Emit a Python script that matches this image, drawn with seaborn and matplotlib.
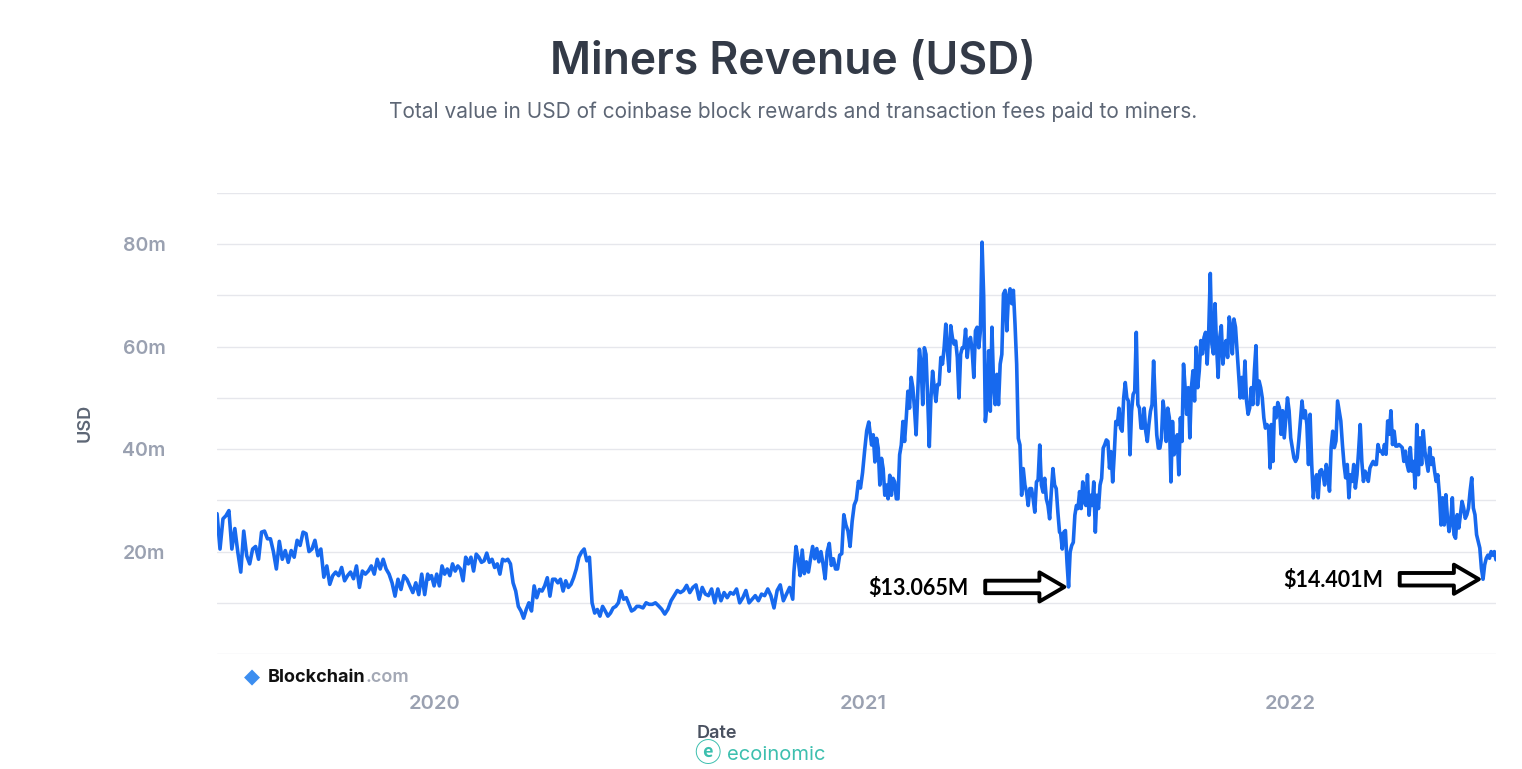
import matplotlib
matplotlib.use('Agg')
import matplotlib.pyplot as plt
import matplotlib.dates as mdates
from matplotlib.ticker import MultipleLocator, FuncFormatter
import seaborn as sns
import pandas as pd

# Miners revenue, million USD (one list per stretch of time)
rev_2019h2 = [27.4, 20.5, 26.4, 27, 28, 20.5, 24.5, 19.9, 16, 24, 19.2, 17.6, 20.5, 21, 18.5,
              23.8, 24, 22.5, 22.5, 20, 16.6, 22, 18.5, 20.2, 17.9, 20.2, 18.9, 22.2, 21.2, 23.8,
              23.5, 20, 20.5, 22.2, 19.2, 20.5, 15, 17.2, 13.6, 15.3, 16, 15.3, 16.9, 14.3, 15.3,
              16, 14.7, 17.2, 13, 16.2, 15.6, 16.2, 17.2, 15.6, 18.5, 16.6, 18.5, 16.6, 15.6, 13.9,
              11.3, 14.6, 12.6, 15.3, 14.6, 13.3, 12, 13.9, 11.6, 15.6, 11.6, 15.6]
rev_2020h1 = [14.6, 15.3, 13.3, 15.6, 13.3, 17.2, 15.6, 16.6, 15.3, 17.6, 16.2, 17.2, 16.6, 14.3,
              18.9, 17.6, 18.9, 16.2, 19.5, 18.9, 17.9, 18.2, 19.7, 17.9, 18.5, 16.9, 17.6, 15.6,
              18.5, 18.2, 18.5, 17.6, 13.9, 12.3, 9.3, 8.4, 7, 8.7, 10, 8.4, 13.3, 11, 12.6, 12.3,
              13.3, 14.9, 11.3, 14.6, 14.6, 13.9, 14.6, 12.3, 14.3, 13, 13.6, 14.9, 16.6, 18.9,
              19.9, 20.5, 18.2, 18.9, 10, 8, 8.7, 7.4, 9.3, 8.4, 7.4, 8, 9, 9.3, 10, 12.3, 10.7,
              11, 9.7, 8.4, 8.7, 9.3, 9.3]
rev_2020h2 = [9, 10, 9.7, 9.7, 10, 9.4, 8.75, 7.8, 8.75, 10.4, 11.4, 12.4, 12, 12.4, 13.4, 12, 13,
              13.5, 10.7, 13, 11.7, 11.4, 12.7, 10, 12.7, 10.4, 12, 11, 12, 11.7, 12.7, 10, 11,
              12.4, 10, 10.7, 11.4, 10.4, 11.7, 11.4, 12.7, 11.4, 9, 12.4, 13.5, 10.4, 11.7, 13,
              10.7]
rev_2020q4 = [16, 21, 18.6, 15.3, 20.3, 15.7, 18, 16, 18.6, 21, 18.6, 20.6, 18, 20, 17.6, 14.7,
              20, 21.6, 17.3, 18.6, 16.6, 16.6, 19.3, 19.6, 27.2, 25.2, 24, 21, 25.9, 29.1, 30.1,
              33.7, 32.4, 35.4, 39.7, 43.6, 45.3]
rev_2021h1 = [43.4, 40.8, 42.8, 37.5, 42.1, 40.2, 33, 38.2, 36.2, 31, 33, 30.3, 34.9, 31, 34.3,
              33.6, 30.3, 30.3, 38.9, 40.8, 45.4, 41.5, 46, 51.3, 48, 54, 52, 48, 42.8, 51.3, 59.5,
              56.6, 48.7, 59.8, 58.5, 50, 40.5, 50, 55.2, 52, 49.3, 52.6, 52.6, 57.9, 56.6, 59.8,
              64.4, 59.2, 55.2, 64.1, 61.8, 60.5, 61.1, 57.9, 50, 58.5, 59.8, 59.8, 63.4, 57.9,
              61.1, 61.8, 59.2, 54, 63.1, 63.8, 59.8, 63.1, 80.4, 69.7, 45.4, 48.7, 59.2, 47.4,
              63.8, 52.6, 48.7, 54.6, 48.7, 56.6, 58.5, 70.3, 71, 63.1, 69.7, 71.3, 68.4, 71, 64.4,
              56.6, 42.1, 40.8, 31, 36.2, 33, 31.6, 29, 32.3, 32.3, 30.3, 27.7, 33.6, 34, 40.8, 33,
              31.6, 34.3, 30.3, 29, 26.4, 31.6, 36.2, 33, 32.3, 27.7, 23.8]
rev_2021h2 = [23.5, 20.5, 23.8, 24.1, 17.9, 13.1, 19.9, 21.2, 21.8, 27.1, 29, 28.4, 31.7, 28.4,
              33.6, 29.7, 29, 35, 27.1, 31, 29, 33.6, 23.8, 31, 28.4, 33, 34.3, 40.2, 40.9, 41.8,
              41.5, 36.3, 39.5, 33.6, 38.9, 45.4, 44.8, 48, 44.1, 43.5, 50, 53, 50, 49.4, 38.9,
              47.4, 50.7, 51.3, 62.8, 48.7, 48, 44.1, 44.1, 48, 43.5, 41.5, 44.8, 47.4, 48.7, 57.2,
              49.4, 42.8, 40.2, 40.2, 42.2, 49.4, 46.8, 41.5, 48, 46.1, 33.6, 45.4, 38.9, 40.2,
              42.8, 35, 46.1, 41.5, 56.6, 52, 46.8, 52, 42.2, 52, 55.3, 49.4, 59.9, 52, 55.3, 61.2,
              58.6, 61.8, 62.8, 56.6, 63.1, 74.3, 60.5, 58.6, 68.4, 59.9, 54, 61.8, 64.1, 56.6,
              59.9, 61.2, 57.9, 65.8, 63.8, 58.6, 65.4, 63.8, 59.2, 54.6, 50, 54, 50, 57.2, 49.4,
              46.8, 48, 52, 48.7, 55.3, 60.2, 48.7, 53.3, 52, 50, 46.1, 44.1, 44.8, 44.1, 36.3]
rev_2022h1 = [44.8, 37.6, 48.1, 46.1, 49.1, 48.1, 42.9, 47.5, 42.2, 46.1, 50, 47.5, 42.2, 40.3,
              38.3, 37.6, 38.3, 41.6, 45.5, 49.4, 46.1, 47.5, 44.8, 37, 46.8, 37, 30.5, 33.7, 35,
              30.5, 35.7, 36, 35, 33, 37, 35, 31.8, 40.3, 43.5, 40.3, 41.6, 49.4, 47.5, 45.5, 40.9,
              37, 34.4, 37, 30.5, 35, 33.7, 37, 32.4, 35, 39.6, 44.8, 37.6, 33.7, 35.7, 35, 33.7,
              36.3, 37, 37.6, 37, 37, 40.9, 39.6, 39.6, 39, 40.9, 39, 45.5, 42.9, 47.5, 40.9, 43.5,
              40.6, 40.6, 40.9, 40.6, 40.3, 37.6, 39.6, 37, 35.7, 40.3, 35.7, 37.6, 32.4, 44.8, 35,
              42.2, 37, 43.6, 39.6, 37.6, 35.7, 40.3, 37, 38.3, 35.7, 33.7, 35, 31.1, 25.2, 30.5,
              25.2, 31.1, 26.5, 23.9, 25.9, 30.5, 23.3, 22.6, 27.2, 24.6, 27.2, 29.8, 28.5, 26.5,
              27.2, 28.5, 31.8, 34.4, 28.5, 27.2, 23.3, 22, 20.7, 16.7, 14.6, 17.4, 18.7, 19.3,
              18.7, 20, 19.3, 20, 18.4]

segments = [
    ('2019-06-29', '2019-12-26', rev_2019h2),
    ('2019-12-27', '2020-06-24', rev_2020h1),
    ('2020-06-27', '2020-11-02', rev_2020h2),
    ('2020-11-03', '2021-01-06', rev_2020q4),
    ('2021-01-07', '2021-06-18', rev_2021h1),
    ('2021-06-19', '2021-12-15', rev_2021h2),
    ('2021-12-16', '2022-06-26', rev_2022h1),
]

note_labels = ['$13.065M', '$14.401M']

frames = []
for start, end, vals in segments:
    frames.append(pd.DataFrame({
        'date': pd.date_range(start, end, periods=len(vals)),
        'usd_m': vals}))
df = pd.concat(frames, ignore_index=True)

sns.set_style('white')
plt.rcParams['font.family'] = ['Inter', 'DejaVu Sans']
plt.rcParams['font.weight'] = 'semibold'

fig = plt.figure(figsize=(15.22, 7.69), dpi=100)
ax = fig.add_axes([0.1426, 0.1495, 0.8403, 0.5995])

sns.lineplot(data=df, x='date', y='usd_m', color='#1769ee', linewidth=2.6, ax=ax)

ax.set_ylim(0, 90)
ax.set_xlim(df['date'].iloc[0], df['date'].iloc[-1])
ax.yaxis.set_major_locator(MultipleLocator(10))
ax.yaxis.set_major_formatter(FuncFormatter(
    lambda v, p: f'{int(v)}m' if v > 0 and int(v) % 20 == 0 else ''))
ax.xaxis.set_major_locator(mdates.YearLocator())
ax.xaxis.set_major_formatter(mdates.DateFormatter('%Y'))

ax.grid(axis='y', color='#e6e7ec', linewidth=1)
ax.grid(axis='x', visible=False)
for s in ax.spines.values():
    s.set_visible(False)
ax.spines['bottom'].set_position(('outward', 13))

ax.tick_params(axis='y', length=0, pad=37, labelsize=14, labelcolor='#9aa1b1')
ax.tick_params(axis='x', length=6.5, width=1, color='#9aa1b1', pad=10,
               labelsize=14.5, labelcolor='#9aa1b1')
ax.set_xlabel('')
ax.set_ylabel('')

# annotations pointing at the two lows
windows = [(df['date'] > '2021-05-01') & (df['date'] < '2021-09-01'),
           df['date'] > '2022-05-01']
for lab, w in zip(note_labels, windows):
    i = df.loc[w, 'usd_m'].idxmin()
    d, v = df.loc[i, 'date'], df.loc[i, 'usd_m']
    ax.annotate('', xy=(d, v), xytext=(-60, 0), textcoords='offset points',
                arrowprops=dict(arrowstyle='simple,head_length=0.9,head_width=1.05,tail_width=0.45',
                                fc='white', ec='black', lw=2.8, shrinkA=0, shrinkB=3,
                                mutation_scale=20))
    ax.annotate(lab.replace('$', r'\$'), xy=(d, v), xytext=(-72, -1),
                textcoords='offset points', ha='right', va='center',
                fontsize=15.5, fontweight='bold', family=['Lato', 'DejaVu Sans'], color='black')

# titles and labels
fig.text(0.521, 1 - 62 / 769, 'Miners Revenue (USD)', ha='center', va='center',
         fontsize=32, fontweight='semibold', color='#333a47')
fig.text(0.521, 1 - 112 / 769,
         'Total value in USD of coinbase block rewards and transaction fees paid to miners.',
         ha='center', va='center', fontsize=15, fontweight='normal', color='#5d6675')
fig.text(85 / 1522, 1 - 423 / 769, 'USD', rotation=90, ha='center', va='center',
         fontsize=13, color='#5d6675')
fig.text(717 / 1522, 1 - 734 / 769, 'Date', ha='center', va='center',
         fontsize=13, color='#4a5160')

# Blockchain.com mark
fig.text(252 / 1522, 1 - 677 / 769, '◆', ha='center', va='center', fontsize=15,
         color='#3c8ef0', family=['DejaVu Sans'])
bc = fig.text(268 / 1522, 1 - 677 / 769, 'Blockchain', ha='left', va='center',
              fontsize=13, fontweight='bold', color='#111111')
ax.annotate('.com', xy=(1, 0.5), xycoords=bc, ha='left', va='center',
            fontsize=13, fontweight='semibold', color='#a3a8b5', annotation_clip=False)

# ecoinomic watermark
fig.text(707 / 1522, 1 - 755 / 769, 'ⓔ', ha='center', va='center', fontsize=19,
         color='#3cbfae', family=['Noto Sans CJK JP', 'DejaVu Sans'])
fig.text(727 / 1522, 1 - 755 / 769, 'ecoinomic', ha='left', va='center', fontsize=14.5,
         fontweight='normal', color='#3cbfae')

fig.savefig('out.png', dpi=100)
